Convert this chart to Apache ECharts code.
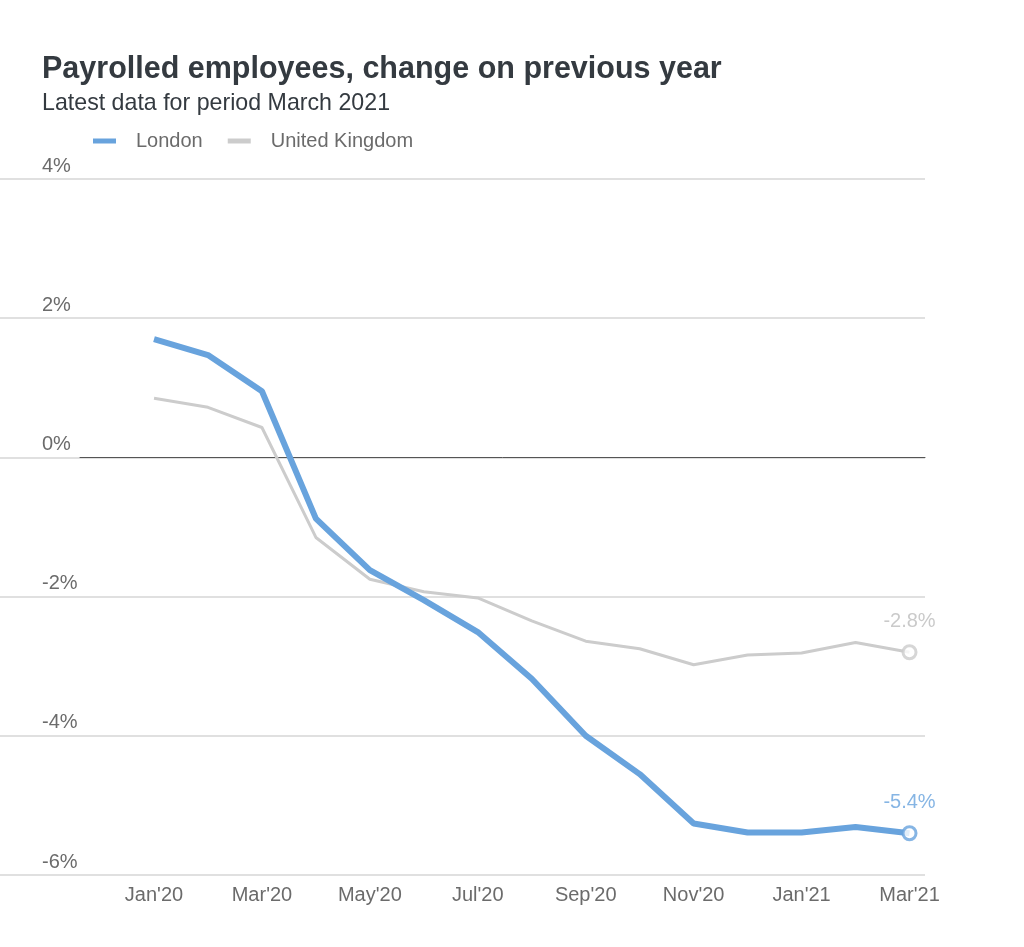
<!DOCTYPE html>
<html>
<head>
<meta charset="utf-8">
<script src="https://cdn.jsdelivr.net/npm/echarts@6/dist/echarts.min.js"></script>
<style>
  html, body { margin: 0; padding: 0; background: #ffffff; }
  #chart { width: 1024px; height: 947px; }
</style>
</head>
<body>
<div id="chart"></div>
<script>
const months = ["Jan'20","Feb'20","Mar'20","Apr'20","May'20","Jun'20","Jul'20","Aug'20","Sep'20","Oct'20","Nov'20","Dec'20","Jan'21","Feb'21","Mar'21"];
const london = [1.70, 1.47, 0.95, -0.88, -1.62, -2.05, -2.51, -3.18, -4.00, -4.55, -5.26, -5.39, -5.39, -5.31, -5.40];
const uk = [0.85, 0.72, 0.43, -1.15, -1.75, -1.93, -2.02, -2.35, -2.64, -2.75, -2.98, -2.84, -2.81, -2.66, -2.80];
const xTickIdx = [0, 2, 4, 6, 8, 10, 12, 14];

const FONT = '"Liberation Sans", Arial, sans-serif';
const BLUE = '#68a3dd';
const GREY = '#cccccc';
const last = months.length - 1;
const toPts = arr => arr.map((v, i) => [i, v]);

const chart = echarts.init(document.getElementById('chart'), null, { renderer: 'canvas' });
chart.setOption({
  animation: false,
  backgroundColor: '#ffffff',
  textStyle: { fontFamily: FONT },
  title: [
    { text: 'Payrolled employees, change on previous year', left: 37, top: 49,
      textStyle: { fontFamily: FONT, fontSize: 30.5, fontWeight: 'bold', color: '#343a40' } },
    { text: 'Latest data for period March 2021', left: 37, top: 87,
      textStyle: { fontFamily: FONT, fontSize: 23.2, fontWeight: 'normal', color: '#343a40' } }
  ],
  legend: {
    left: 88, top: 126,
    itemWidth: 23, itemHeight: 5, itemGap: 25,
    data: [
      { name: 'London', icon: 'rect', itemStyle: { color: BLUE } },
      { name: 'United Kingdom', icon: 'rect', itemStyle: { color: GREY } }
    ],
    textStyle: { fontFamily: FONT, fontSize: 20, color: '#6b6b6b', padding: [0, 0, 0, 15] }
  },
  grid: [
    { left: 0, right: 99, top: 179, bottom: 72 },
    { left: 80, right: 99, top: 179, bottom: 72 }
  ],
  xAxis: [
    { type: 'value', gridIndex: 0, min: -2.854, max: 14.287,
      axisLine: { show: false }, axisTick: { show: false }, splitLine: { show: false },
      axisLabel: { customValues: xTickIdx, formatter: v => months[Math.round(v)] || '',
        fontFamily: FONT, fontSize: 20, color: '#6b6b6b', margin: 10 } },
    { type: 'value', gridIndex: 1, min: 0, max: 1,
      axisLine: { show: true, onZero: true, lineStyle: { color: '#555555', width: 1 } },
      axisTick: { show: false }, axisLabel: { show: false }, splitLine: { show: false } }
  ],
  yAxis: [
    { type: 'value', gridIndex: 0, min: -6, max: 4, interval: 2,
      axisLine: { show: false }, axisTick: { show: false },
      splitLine: { show: true, lineStyle: { color: '#d6d6d6', width: 1.5 } },
      axisLabel: { inside: true, margin: 42, verticalAlign: 'bottom', padding: [0, 0, 3, 0],
        fontFamily: FONT, fontSize: 20, color: '#6b6b6b', formatter: v => v + '%' } },
    { type: 'value', gridIndex: 1, min: -6, max: 4, show: false }
  ],
  series: [
    { name: 'United Kingdom', type: 'line', xAxisIndex: 0, yAxisIndex: 0, data: toPts(uk),
      symbol: 'none', color: GREY, lineStyle: { color: GREY, width: 3 }, z: 3 },
    { name: 'London', type: 'line', xAxisIndex: 0, yAxisIndex: 0, data: toPts(london),
      symbol: 'none', color: BLUE, lineStyle: { color: BLUE, width: 6 }, z: 4 },
    { name: 'ukEnd', type: 'scatter', xAxisIndex: 0, yAxisIndex: 0, data: [[last, uk[last]]],
      symbol: 'circle', symbolSize: 13, z: 5,
      itemStyle: { color: '#ffffff', borderColor: GREY, borderWidth: 3 },
      label: { show: true, position: 'top', distance: 13, formatter: p => p.value[1].toFixed(1) + '%',
        fontFamily: FONT, fontSize: 20, color: '#bdbdbd' } },
    { name: 'londonEnd', type: 'scatter', xAxisIndex: 0, yAxisIndex: 0, data: [[last, london[last]]],
      symbol: 'circle', symbolSize: 13, z: 6,
      itemStyle: { color: '#ffffff', borderColor: BLUE, borderWidth: 3 },
      label: { show: true, position: 'top', distance: 13, formatter: p => p.value[1].toFixed(1) + '%',
        fontFamily: FONT, fontSize: 20, color: BLUE } }
  ]
});
</script>
</body>
</html>
